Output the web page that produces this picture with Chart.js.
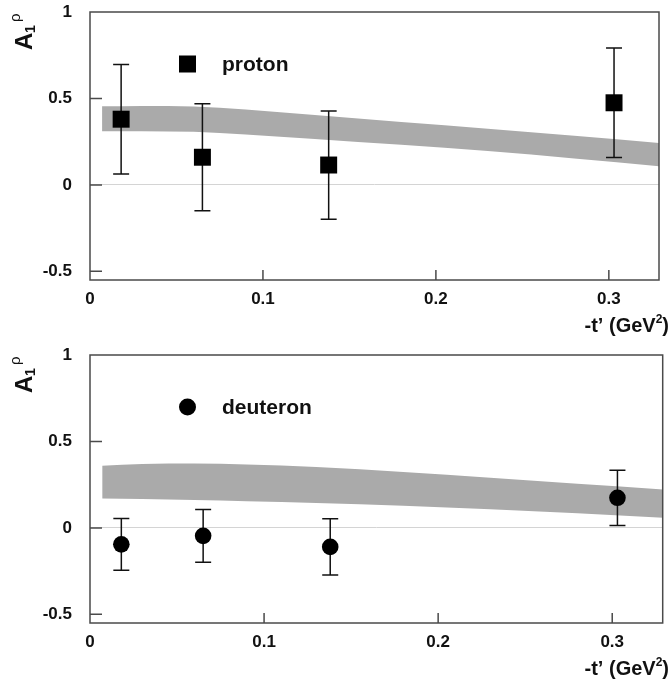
<!DOCTYPE html>
<html>
<head>
<meta charset="utf-8">
<script src="https://cdn.jsdelivr.net/npm/chart.js@4.4.1/dist/chart.umd.min.js"></script>
<style>
  html, body { margin: 0; padding: 0; background: #fff; }
  .panel { position: absolute; left: 0; width: 671px; height: 343px; }
  #top { top: 0; }
  #bottom { top: 343px; }
</style>
</head>
<body>
<div class="panel" id="top"><canvas id="protonChart"></canvas></div>
<div class="panel" id="bottom"><canvas id="deuteronChart"></canvas></div>
<script>
// tick labels
const xTicks = [0, 0.1, 0.2, 0.3];
const yTicks = [-0.5, 0, 0.5, 1];

// measured points: -t' and A1
const tPoints = [0.018, 0.065, 0.138, 0.303];
const protonA1 = [0.38, 0.16, 0.115, 0.475];
const protonErr = [0.317, 0.31, 0.313, 0.317];
const deuteronA1 = [-0.095, -0.046, -0.11, 0.174];
const deuteronErr = [0.15, 0.152, 0.163, 0.16];

// model band (lower / upper edge)
const bandT = [0.007, 0.03, 0.06, 0.09, 0.13, 0.18, 0.23, 0.28, 0.33];
const protonBandLow = [0.31, 0.311, 0.307, 0.292, 0.266, 0.232, 0.196, 0.153, 0.107];
const protonBandHigh = [0.455, 0.457, 0.453, 0.436, 0.404, 0.364, 0.325, 0.285, 0.242];
const deuteronBandLow = [0.17, 0.167, 0.161, 0.154, 0.144, 0.128, 0.108, 0.085, 0.058];
const deuteronBandHigh = [0.36, 0.369, 0.372, 0.367, 0.352, 0.323, 0.29, 0.255, 0.222];

const FONT = "'Liberation Sans', Arial, sans-serif";
const INK = '#111';
const FRAME = '#4a4a4a';
const BAND = '#aaaaaa';

const pts = (xs, ys) => xs.map((x, i) => ({ x, y: ys[i] }));
const fmt = (v) => String(Math.round(v * 10) / 10);

// error bars drawn just before the marker dataset
const errorBarPlugin = {
  id: 'errorBars',
  beforeDatasetDraw(chart, args, opts) {
    if (args.index !== 0) return;
    const { ctx, scales: { x, y } } = chart;
    const vals = chart.data.datasets[0].data;
    ctx.save();
    ctx.strokeStyle = INK;
    ctx.lineWidth = 1.5;
    vals.forEach((p, i) => {
      const e = opts.errors[i];
      const px = x.getPixelForValue(p.x);
      const top = y.getPixelForValue(p.y + e);
      const bot = y.getPixelForValue(p.y - e);
      ctx.beginPath();
      ctx.moveTo(px, top); ctx.lineTo(px, bot);
      ctx.moveTo(px - 8, top); ctx.lineTo(px + 8, top);
      ctx.moveTo(px - 8, bot); ctx.lineTo(px + 8, bot);
      ctx.stroke();
    });
    ctx.restore();
  },
};

// frame, inward ticks, legend and axis titles
const decorPlugin = {
  id: 'decor',
  afterDraw(chart, args, opts) {
    const { ctx, chartArea: a, scales: { x, y } } = chart;
    ctx.save();
    ctx.strokeStyle = FRAME;
    ctx.lineWidth = 1.5;
    ctx.strokeRect(a.left, a.top, a.right - a.left, a.bottom - a.top);
    ctx.beginPath();
    xTicks.forEach((v) => {
      if (v === 0) return;
      const px = x.getPixelForValue(v);
      ctx.moveTo(px, a.bottom); ctx.lineTo(px, a.bottom - 10);
    });
    yTicks.forEach((v) => {
      if (v === 1) return;
      const py = y.getPixelForValue(v);
      ctx.moveTo(a.left, py); ctx.lineTo(a.left + 12, py);
    });
    ctx.stroke();

    // legend
    const mx = a.left + 97.5, my = a.top + 52;
    ctx.fillStyle = '#000';
    if (opts.marker === 'rect') {
      ctx.fillRect(mx - 8.5, my - 8.5, 17, 17);
    } else {
      ctx.beginPath(); ctx.arc(mx, my, 8.5, 0, Math.PI * 2); ctx.fill();
    }
    ctx.fillStyle = INK;
    ctx.font = 'bold 21px ' + FONT;
    ctx.textBaseline = 'middle';
    ctx.textAlign = 'left';
    ctx.fillText(opts.label, a.left + 132, my + 1);

    // x title  -t' (GeV^2)
    const ty = a.bottom + 52;
    ctx.font = 'bold 20px ' + FONT;
    ctx.textBaseline = 'alphabetic';
    ctx.textAlign = 'right';
    const close = ')';
    const rEdge = 669;
    ctx.fillText(close, rEdge, ty);
    let w = ctx.measureText(close).width;
    ctx.font = 'bold 12px ' + FONT;
    ctx.fillText('2', rEdge - w, ty - 9);
    w += ctx.measureText('2').width;
    ctx.font = 'bold 20px ' + FONT;
    ctx.fillText('-t\u2019 (GeV', rEdge - w, ty);

    // y title  A1^rho
    ctx.translate(32, a.top + 38);
    ctx.rotate(-Math.PI / 2);
    ctx.textAlign = 'left';
    ctx.font = 'bold 24px ' + FONT;
    ctx.fillText('A', 0, 0);
    ctx.font = 'bold 14px ' + FONT;
    ctx.fillText('1', 17, 3);
    ctx.font = '15px ' + FONT;
    ctx.fillText('\u03C1', 28, -12);
    ctx.restore();
  },
};

// keep the plot area fixed: no extra padding for edge labels
const noEdgePad = (s) => {
  s.paddingTop = 0; s.paddingBottom = 0; s.paddingLeft = 0; s.paddingRight = 0;
};

function makeChart(canvasId, values, errors, bandLow, bandHigh, label, marker, radius) {
  return new Chart(document.getElementById(canvasId), {
    type: 'scatter',
    data: {
      datasets: [
        {
          data: pts(tPoints, values),
          pointStyle: marker,
          pointRadius: radius,
          pointHoverRadius: radius,
          backgroundColor: '#000',
          borderWidth: 0,
          showLine: false,
        },
        {
          type: 'line',
          data: pts(bandT, bandLow),
          borderWidth: 0,
          borderColor: BAND,
          pointRadius: 0,
          cubicInterpolationMode: 'monotone',
          fill: false,
        },
        {
          type: 'line',
          data: pts(bandT, bandHigh),
          borderWidth: 0,
          borderColor: BAND,
          backgroundColor: BAND,
          pointRadius: 0,
          cubicInterpolationMode: 'monotone',
          fill: '-1',
        },
      ],
    },
    options: {
      responsive: true,
      maintainAspectRatio: false,
      animation: false,
      events: [],
      layout: { padding: { left: 0, right: 2, top: 12, bottom: 0 } },
      plugins: {
        legend: { display: false },
        tooltip: { enabled: false },
        errorBars: { errors },
        decor: { label, marker },
      },
      scales: {
        x: {
          type: 'linear',
          min: 0,
          max: 0.329,
          afterBuildTicks: (s) => { s.ticks = xTicks.map((v) => ({ value: v })); },
          afterFit: (s) => { s.height = 63; noEdgePad(s); },
          grid: { display: false, drawTicks: false },
          border: { display: false },
          ticks: { color: INK, font: { family: FONT, size: 17, weight: 'bold' }, padding: 9, maxRotation: 0, callback: fmt },
        },
        y: {
          type: 'linear',
          min: -0.55,
          max: 1.0,
          afterBuildTicks: (s) => { s.ticks = yTicks.map((v) => ({ value: v })); },
          afterFit: (s) => { s.width = 90; noEdgePad(s); },
          grid: {
            drawTicks: false,
            lineWidth: 1,
            color: (c) => (c.tick && c.tick.value === 0 ? '#d4d4d4' : 'rgba(0,0,0,0)'),
          },
          border: { display: false },
          ticks: { color: INK, font: { family: FONT, size: 17, weight: 'bold' }, padding: 18, callback: fmt },
        },
      },
    },
    plugins: [errorBarPlugin, decorPlugin],
  });
}

makeChart('protonChart', protonA1, protonErr, protonBandLow, protonBandHigh, 'proton', 'rect', 12);
makeChart('deuteronChart', deuteronA1, deuteronErr, deuteronBandLow, deuteronBandHigh, 'deuteron', 'circle', 8.3);
</script>
</body>
</html>
